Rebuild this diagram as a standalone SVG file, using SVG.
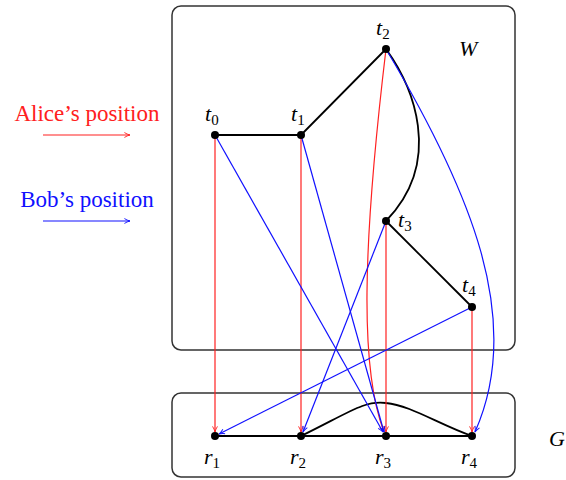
<svg xmlns="http://www.w3.org/2000/svg" width="566" height="480" viewBox="0 0 566 480">
<style>
.box{fill:none;stroke:#333;stroke-width:1.5}
.edge{fill:none;stroke:#000;stroke-width:1.8}
.red{fill:none;stroke:#ff2020;stroke-width:1.2}
.blue{fill:none;stroke:#1010ff;stroke-width:1.2}
.dot{fill:#000}
.lbl{font-family:"Liberation Serif",serif;font-style:italic;font-size:22px;fill:#000}
.sub{font-family:"Liberation Serif",serif;font-style:normal;font-size:15px}
.leg{font-family:"Liberation Serif",serif;font-size:23px;text-anchor:middle}
</style>
<defs>
<marker id="ar" viewBox="0 0 10 10" refX="9" refY="5" markerWidth="7" markerHeight="7" orient="auto" markerUnits="userSpaceOnUse"><path d="M1,1.5 Q5,4 9,5 Q5,6 1,8.5" fill="none" stroke="#ff2020" stroke-width="1.3"/></marker>
<marker id="ab" viewBox="0 0 10 10" refX="9" refY="5" markerWidth="7" markerHeight="7" orient="auto" markerUnits="userSpaceOnUse"><path d="M1,1.5 Q5,4 9,5 Q5,6 1,8.5" fill="none" stroke="#1010ff" stroke-width="1.3"/></marker>
</defs>
<rect class="box" x="172" y="6" width="343" height="344" rx="9"/>
<rect class="box" x="172" y="393" width="343" height="84" rx="9"/>
<text x="459" y="56" class="lbl">W</text>
<text x="549" y="446" class="lbl">G</text>
<g id="legend">
<text x="87" y="121" class="leg" fill="#ff2020">Alice’s position</text>
<line x1="43" y1="135" x2="130" y2="135" class="red" marker-end="url(#ar)"/>
<text x="87" y="207" class="leg" fill="#1010ff">Bob’s position</text>
<line x1="43" y1="221" x2="130" y2="221" class="blue" marker-end="url(#ab)"/>
</g>
<g id="connectors">
<path class="edge" d="M215,135 L301,135 L386,49"/>
<path class="edge" d="M386,49 C412,85 445,160 386,221"/>
<path class="edge" d="M386,221 L472,307"/>
<path class="edge" d="M215,436 L472,436"/>
<path class="edge" d="M301,436 C350,412 365,400 386,403 C410,405 440,425 472,436"/>
<line class="red" x1="215" y1="135" x2="215" y2="432" marker-end="url(#ar)"/>
<line class="red" x1="301" y1="135" x2="301" y2="432" marker-end="url(#ar)"/>
<line class="red" x1="386" y1="221" x2="386" y2="432" marker-end="url(#ar)"/>
<line class="red" x1="472" y1="307" x2="472" y2="432" marker-end="url(#ar)"/>
<path class="red" d="M386,49 C362,250 360,370 384,432" marker-end="url(#ar)"/>
<line class="blue" x1="215" y1="135" x2="383" y2="432" marker-end="url(#ab)"/>
<line class="blue" x1="301" y1="135" x2="384" y2="432" marker-end="url(#ab)"/>
<line class="blue" x1="386" y1="221" x2="303" y2="432" marker-end="url(#ab)"/>
<line class="blue" x1="472" y1="307" x2="219" y2="434" marker-end="url(#ab)"/>
<path class="blue" d="M386,49 C470,190 525,320 475,432" marker-end="url(#ab)"/>
</g>
<g id="t0"><circle class="dot" cx="215" cy="135" r="4"/><text class="lbl" x="205" y="121">t<tspan class="sub" dy="4">0</tspan></text></g>
<g id="t1"><circle class="dot" cx="301" cy="135" r="4"/><text class="lbl" x="291" y="121">t<tspan class="sub" dy="4">1</tspan></text></g>
<g id="t2"><circle class="dot" cx="386" cy="49" r="4"/><text class="lbl" x="376" y="35">t<tspan class="sub" dy="4">2</tspan></text></g>
<g id="t3"><circle class="dot" cx="386" cy="221" r="4"/><text class="lbl" x="398" y="227">t<tspan class="sub" dy="4">3</tspan></text></g>
<g id="t4"><circle class="dot" cx="472" cy="307" r="4"/><text class="lbl" x="462" y="292">t<tspan class="sub" dy="4">4</tspan></text></g>
<g id="r1"><circle class="dot" cx="215" cy="436" r="4"/><text class="lbl" x="204" y="464">r<tspan class="sub" dy="4">1</tspan></text></g>
<g id="r2"><circle class="dot" cx="301" cy="436" r="4"/><text class="lbl" x="290" y="464">r<tspan class="sub" dy="4">2</tspan></text></g>
<g id="r3"><circle class="dot" cx="386" cy="436" r="4"/><text class="lbl" x="375" y="464">r<tspan class="sub" dy="4">3</tspan></text></g>
<g id="r4"><circle class="dot" cx="472" cy="436" r="4"/><text class="lbl" x="461" y="464">r<tspan class="sub" dy="4">4</tspan></text></g>
</svg>
